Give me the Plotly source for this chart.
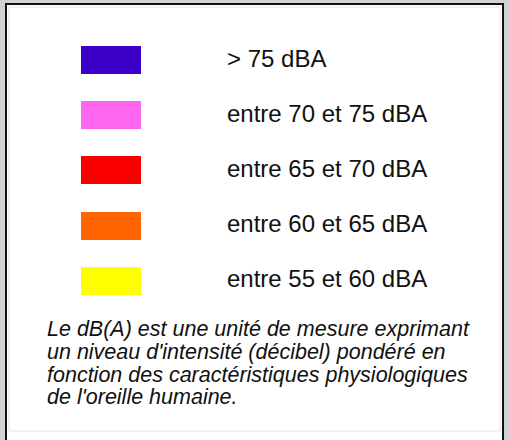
import plotly.graph_objects as go

# Legend data
labels = ["> 75 dBA", "entre 70 et 75 dBA", "entre 65 et 70 dBA",
          "entre 60 et 65 dBA", "entre 55 et 60 dBA"]
colors = ["#3c00c8", "#ff66f0", "#fa0000", "#ff6400", "#ffff00"]
note_lines = [
    "Le dB(A) est une unité de mesure exprimant",
    "un niveau d'intensité (décibel) pondéré en",
    "fonction des caractéristiques physiologiques",
    "de l'oreille humaine.",
]

W, H = 509, 440
row0, row_step = 60, 55.2
sw_x0, sw_len, sw_h = 81, 60, 28
txt_x = 225
centers = [row0 + row_step * i for i in range(len(labels))]

fig = go.Figure()

# Legend box
fig.add_shape(type="rect", x0=6, y0=4, x1=503, y1=460, xref="x", yref="y",
              line=dict(color="#111111", width=2), fillcolor="white", layer="below")
fig.add_shape(type="rect", x0=9, y0=7, x1=500, y1=431, xref="x", yref="y",
              line=dict(color="#e4e4e4", width=1), layer="below")

fig.add_trace(go.Bar(
    orientation="h",
    y=centers,
    x=[sw_len] * len(labels),
    base=sw_x0,
    width=sw_h,
    marker=dict(color=colors, line=dict(width=0)),
    hoverinfo="skip",
    showlegend=False,
))

for c, lab in zip(centers, labels):
    fig.add_annotation(x=txt_x, y=c - 2, text=lab, xref="x", yref="y",
                       xanchor="left", yanchor="middle", showarrow=False,
                       font=dict(family="Liberation Sans, Arial", size=24, color="#111111"))

note_y0, note_step = 329, 22.8
for i, ln in enumerate(note_lines):
    fig.add_annotation(x=45, y=note_y0 + note_step * i, text="<i>" + ln + "</i>",
                       xref="x", yref="y", xanchor="left", yanchor="middle",
                       showarrow=False,
                       font=dict(family="Liberation Sans, Arial", size=21.5, color="#111111"))

fig.update_layout(
    width=W, height=H,
    margin=dict(l=0, r=0, t=0, b=0),
    paper_bgcolor="#d2d2d2",
    plot_bgcolor="rgba(0,0,0,0)",
    xaxis=dict(range=[0, W], visible=False, fixedrange=True),
    yaxis=dict(range=[H, 0], visible=False, fixedrange=True),
    bargap=0,
)

fig.write_html("out.html", config={"displayModeBar": False},
               post_script="document.body.style.margin='0';document.body.style.overflow='hidden';")
